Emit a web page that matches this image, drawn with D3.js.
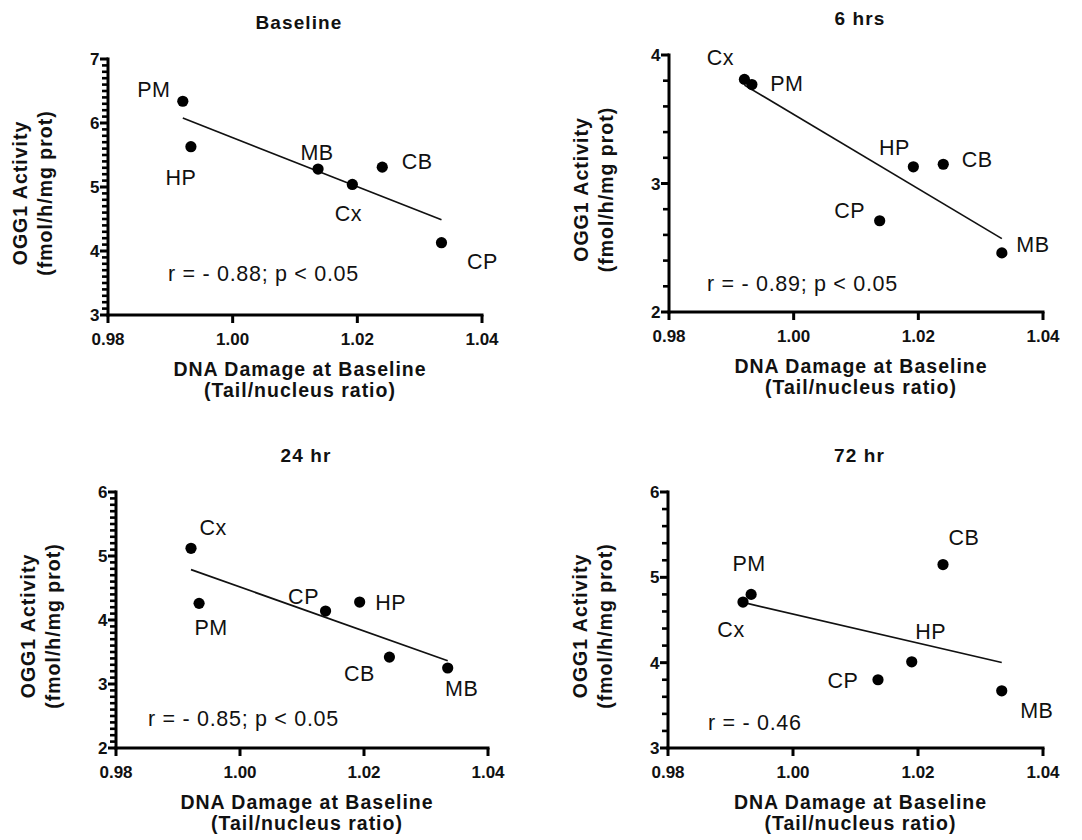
<!DOCTYPE html>
<html>
<head>
<meta charset="utf-8">
<script src="https://cdn.jsdelivr.net/npm/d3@7"></script>
<style>
  html, body { margin: 0; padding: 0; background: #fff; }
  svg { display: block; }
  text { font-family: "Liberation Sans", Arial, Helvetica, sans-serif; fill: #111; }
</style>
</head>
<body>
<svg id="chart" width="1082" height="840"></svg>
<script>
// ---------------- DATA ----------------
const panelTitles = ["Baseline", "6 hrs", "24 hr", "72 hr"];
const xTickValues = [0.98, 1.00, 1.02, 1.04];
const xTickLabels = ["0.98", "1.00", "1.02", "1.04"];

const baselineLabels = ["PM", "HP", "MB", "Cx", "CB", "CP"];
const baselineX = [0.9920, 0.9933, 1.0137, 1.0192, 1.0240, 1.0335];
const baselineY = [6.34, 5.63, 5.28, 5.04, 5.31, 4.13];

const hr6Labels = ["Cx", "PM", "CP", "HP", "CB", "MB"];
const hr6X = [0.9921, 0.9933, 1.0138, 1.0192, 1.0240, 1.0334];
const hr6Y = [3.81, 3.77, 2.71, 3.13, 3.15, 2.46];

const hr24Labels = ["Cx", "PM", "CP", "HP", "CB", "MB"];
const hr24X = [0.9921, 0.9934, 1.0138, 1.0193, 1.0241, 1.0335];
const hr24Y = [5.12, 4.26, 4.14, 4.28, 3.42, 3.25];

const hr72Labels = ["Cx", "PM", "CP", "HP", "CB", "MB"];
const hr72X = [0.9920, 0.9933, 1.0136, 1.0190, 1.0240, 1.0334];
const hr72Y = [4.71, 4.80, 3.80, 4.01, 5.15, 3.67];

const yDomains = [[3, 7], [2, 4], [2, 6], [3, 6]];
const yMajorTicks = [[3, 4, 5, 6, 7], [2, 3, 4], [2, 3, 4, 5, 6], [3, 4, 5, 6]];
const yMinorStep = [0.1, 0.2, 0.1, 0.2];
const statTexts = ["r = - 0.88; p < 0.05", "r = - 0.89; p < 0.05", "r = - 0.85; p < 0.05", "r = - 0.46"];

const yTitleLines = ["OGG1 Activity", "(fmol/h/mg prot)"];
const xTitleLines = ["DNA Damage at Baseline", "(Tail/nucleus ratio)"];

// ---------------- LAYOUT ----------------
const frames = [
  { left: 108, right: 482, top: 59, bottom: 315 },
  { left: 669, right: 1043, top: 55, bottom: 312 },
  { left: 116, right: 488, top: 492, bottom: 748 },
  { left: 668, right: 1043, top: 492, bottom: 748 }
];
const labelOffsets = [
  [[-29, -12], [-10, 31], [-1, -17], [-4, 29], [35, -6], [41, 19]],
  [[-24, -22], [35, -1], [-30, -11], [-19, -20], [34, -5], [31, -9]],
  [[22, -21], [12, 24], [-22, -15], [31, 0], [-30, 16], [14, 20]],
  [[-12, 27], [-2, -31], [-35, 1], [19, -31], [21, -27], [35, 19]]
];
const statPos = [[60, -34], [38, -21], [32, -22], [40, -18]];

const panelData = [
  { labels: baselineLabels, xs: baselineX, ys: baselineY },
  { labels: hr6Labels, xs: hr6X, ys: hr6Y },
  { labels: hr24Labels, xs: hr24X, ys: hr24Y },
  { labels: hr72Labels, xs: hr72X, ys: hr72Y }
];

const svg = d3.select("#chart");
const FONT = '"Liberation Sans", Arial, Helvetica, sans-serif';
const AX = 3;     // axis thickness
const TK = 2.6;   // tick thickness

function linreg(xs, ys) {
  const mx = d3.mean(xs), my = d3.mean(ys);
  let sxy = 0, sxx = 0;
  xs.forEach((x, i) => { sxy += (x - mx) * (ys[i] - my); sxx += (x - mx) * (x - mx); });
  const b = sxy / sxx;
  return { a: my - b * mx, b };
}

panelData.forEach((pd, p) => {
  const f = frames[p];
  const x = d3.scaleLinear().domain([0.98, 1.04]).range([f.left, f.right]);
  const y = d3.scaleLinear().domain(yDomains[p]).range([f.bottom, f.top]);
  const g = svg.append("g");

  const [y0, y1] = yDomains[p];
  const nMinor = Math.round((y1 - y0) / yMinorStep[p]);
  const minorVals = d3.range(0, nMinor + 1).map(i => +(y0 + i * yMinorStep[p]).toFixed(3))
    .filter(v => !yMajorTicks[p].some(m => Math.abs(m - v) < 1e-6));

  // minor y ticks
  g.append("g").selectAll("rect").data(minorVals).join("rect")
    .attr("x", f.left - 6).attr("width", 6)
    .attr("y", d => y(d) - TK / 2).attr("height", TK)
    .attr("fill", "#000");

  // major y ticks + labels
  const gy = g.append("g");
  gy.selectAll("rect").data(yMajorTicks[p]).join("rect")
    .attr("x", f.left - 8).attr("width", 8)
    .attr("y", d => y(d) - AX / 2).attr("height", AX)
    .attr("fill", "#000");
  gy.selectAll("text").data(yMajorTicks[p]).join("text")
    .attr("x", f.left - 8.5).attr("y", d => y(d)).attr("dy", "0.36em")
    .attr("text-anchor", "end")
    .attr("font-family", FONT).attr("font-size", 17).attr("font-weight", "bold")
    .text(d => d3.format("d")(d));

  // x ticks + labels
  const gx = g.append("g");
  gx.selectAll("rect").data(xTickValues).join("rect")
    .attr("x", d => x(d) - AX / 2).attr("width", AX)
    .attr("y", f.bottom).attr("height", 8)
    .attr("fill", "#000");
  gx.selectAll("text").data(xTickValues).join("text")
    .attr("x", d => x(d)).attr("y", f.bottom + 30)
    .attr("text-anchor", "middle")
    .attr("font-family", FONT).attr("font-size", 17).attr("font-weight", "bold")
    .text((d, i) => xTickLabels[i]);

  // axis lines
  g.append("rect").attr("x", f.left - AX / 2).attr("width", AX)
    .attr("y", y(y1) - AX / 2).attr("height", y(y0) - y(y1) + AX)
    .attr("fill", "#000");
  g.append("rect").attr("x", x(0.98) - AX / 2).attr("width", x(1.04) - x(0.98) + AX)
    .attr("y", f.bottom - AX / 2).attr("height", AX)
    .attr("fill", "#000");

  // regression line
  const xs = pd.xs, ys = pd.ys;
  const fit = linreg(xs, ys);
  const xmin = d3.min(xs), xmax = d3.max(xs);
  const line = d3.line().x(d => x(d[0])).y(d => y(d[1]));
  g.append("path")
    .datum([[xmin, fit.a + fit.b * xmin], [xmax, fit.a + fit.b * xmax]])
    .attr("d", line).attr("fill", "none").attr("stroke", "#111").attr("stroke-width", 1.7);

  // points
  g.selectAll("circle.pt").data(xs).join("circle")
    .attr("class", "pt")
    .attr("cx", d => x(d)).attr("cy", (d, i) => y(ys[i])).attr("r", 5.6).attr("fill", "#000");

  // labels
  g.selectAll("text.lbl").data(pd.labels).join("text")
    .attr("class", "lbl")
    .attr("x", (d, i) => x(xs[i]) + labelOffsets[p][i][0])
    .attr("y", (d, i) => y(ys[i]) + labelOffsets[p][i][1])
    .attr("dy", "0.36em")
    .attr("text-anchor", "middle")
    .attr("font-family", FONT).attr("font-size", 21.5)
    .attr("letter-spacing", 0.5)
    .text(d => d);

  g.append("text")
    .attr("x", f.left + statPos[p][0]).attr("y", f.bottom + statPos[p][1])
    .attr("font-family", FONT).attr("font-size", 21.5).attr("letter-spacing", 0.7)
    .text(statTexts[p]);

  const cx = (f.left + f.right) / 2;
  g.append("text")
    .attr("x", cx + 4).attr("y", f.top - 30)
    .attr("text-anchor", "middle")
    .attr("font-family", FONT).attr("font-size", 19).attr("font-weight", "bold")
    .attr("letter-spacing", 1.1)
    .text(panelTitles[p]);

  xTitleLines.forEach((t, i) => {
    g.append("text")
      .attr("x", cx + 5).attr("y", f.bottom + 61 + i * 21)
      .attr("text-anchor", "middle")
      .attr("font-family", FONT).attr("font-size", 19.5).attr("font-weight", "bold")
      .attr("letter-spacing", 1)
      .text(t);
  });

  const cy = (f.top + f.bottom) / 2 + 6;
  yTitleLines.forEach((t, i) => {
    const bx = f.left - 81 + i * 25;
    g.append("text")
      .attr("transform", `translate(${bx},${cy}) rotate(-90)`)
      .attr("text-anchor", "middle")
      .attr("font-family", FONT).attr("font-size", 19.5).attr("font-weight", "bold")
      .attr("letter-spacing", 1)
      .text(t);
  });
});
</script>
</body>
</html>
